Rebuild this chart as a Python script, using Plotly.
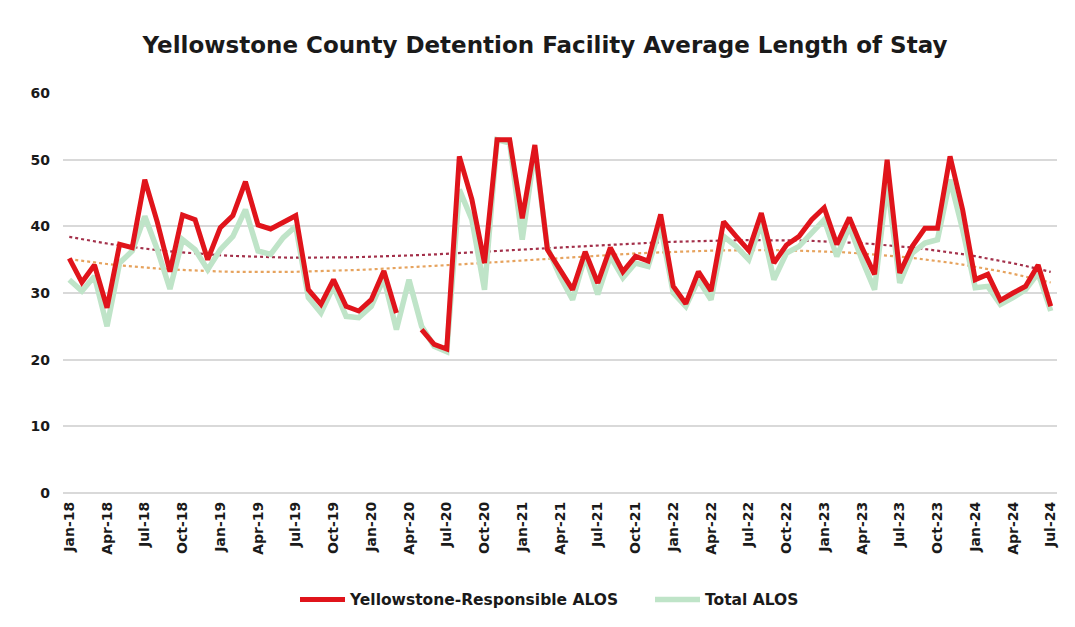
import numpy as np
import plotly.graph_objects as go

# Monthly periods, Jan-18 through Jul-24
months = ["Jan", "Feb", "Mar", "Apr", "May", "Jun", "Jul", "Aug", "Sep", "Oct", "Nov", "Dec"]
periods = [f"{m}-{y:02d}" for y in range(18, 25) for m in months][:79]

# Average length of stay (days) for Yellowstone-responsible inmates
yellowstone_alos = [
    35.2, 31.6, 34.2, 27.8, 37.3, 36.8, 47.0, 40.6, 33.2, 41.7, 41.0, 35.0,
    39.8, 41.6, 46.7, 40.2, 39.6, 40.6, 41.6, 30.5, 28.3, 32.0, 28.0, 27.3,
    29.0, 33.3, 27.0, None, 24.5, 22.3, 21.6, 50.5, 44.0, 34.5, 53.0, 53.0,
    41.2, 52.2, 36.5, 33.5, 30.5, 36.2, 31.5, 36.8, 33.2, 35.5, 34.8, 41.8,
    31.0, 28.4, 33.2, 30.3, 40.7, 38.5, 36.4, 42.0, 34.5, 37.2, 38.5, 41.0,
    42.8, 37.3, 41.3, 36.8, 32.8, 50.0, 33.0, 37.0, 39.7, 39.7, 50.5, 42.5,
    32.0, 32.8, 28.9, 30.0, 31.0, 34.2, 28.0,
]

# Average length of stay (days) for the whole facility
total_alos = [
    32.0, 30.3, 32.5, 25.0, 34.5, 36.3, 41.5, 36.5, 30.6, 38.0, 36.5, 33.5,
    36.5, 38.5, 42.5, 36.3, 35.8, 38.3, 40.0, 29.3, 27.0, 31.0, 26.5, 26.3,
    28.0, 32.2, 24.5, 32.0, 25.0, 22.0, 21.2, 45.5, 41.0, 30.5, 53.0, 52.5,
    38.0, 51.5, 36.8, 32.5, 29.0, 35.5, 29.8, 35.5, 32.3, 34.5, 34.0, 40.0,
    30.0, 28.0, 32.0, 29.0, 38.5, 37.0, 35.0, 40.5, 32.0, 36.0, 37.0, 39.0,
    41.0, 35.5, 40.0, 35.0, 30.5, 46.5, 31.5, 36.0, 37.5, 38.0, 47.0, 39.5,
    30.8, 31.0, 28.3, 29.3, 30.5, 33.0, 27.3,
]

y_ticks = [0, 10, 20, 30, 40, 50, 60]
TREND_ORDER = 3

x = np.arange(len(periods))


def poly_trend(values, order):
    arr = np.array([np.nan if v is None else v for v in values], dtype=float)
    mask = ~np.isnan(arr)
    coef = np.polyfit(x[mask], arr[mask], order)
    return np.polyval(coef, x)


ys_trend = poly_trend(yellowstone_alos, TREND_ORDER)
tot_trend = poly_trend(total_alos, TREND_ORDER)

FONT = "DejaVu Sans, Verdana, sans-serif"

fig = go.Figure()

fig.add_trace(go.Scatter(
    x=x, y=tot_trend, mode="lines", showlegend=False, hoverinfo="skip",
    line=dict(color="#e6a35e", width=2.2, dash="dot"),
))
fig.add_trace(go.Scatter(
    x=x, y=ys_trend, mode="lines", showlegend=False, hoverinfo="skip",
    line=dict(color="#a3304a", width=2.2, dash="dot"),
))
fig.add_trace(go.Scatter(
    x=x, y=total_alos, mode="lines", name="Total ALOS",
    line=dict(color="#bfe4c8", width=5.5),
))
fig.add_trace(go.Scatter(
    x=x, y=yellowstone_alos, mode="lines", name="Yellowstone-Responsible ALOS",
    line=dict(color="#e0141b", width=5), connectgaps=False,
))

tick_idx = list(range(0, len(periods), 3))

fig.update_layout(
    width=1075, height=627,
    paper_bgcolor="white", plot_bgcolor="white",
    margin=dict(l=63, r=18, t=93, b=133),
    font=dict(family=FONT, color="#1a1a1a"),
    title=dict(
        text="Yellowstone County Detention Facility Average Length of Stay",
        x=0.507, xanchor="center", y=0.928, yanchor="middle",
        font=dict(family=FONT, size=23, weight="bold", color="#1a1a1a"),
    ),
    xaxis=dict(
        range=[-0.5, len(periods) - 0.5],
        tickmode="array", tickvals=tick_idx, ticktext=[periods[i] for i in tick_idx],
        tickangle=-90, tickfont=dict(family=FONT, size=14, weight="bold"),
        showgrid=False, zeroline=False, showline=False,
        ticks="", ticklabelstandoff=5,
    ),
    yaxis=dict(
        range=[0, 60], tickvals=y_ticks,
        tickfont=dict(family=FONT, size=14, weight="bold"),
        showgrid=True, gridcolor="#d9d9d9", gridwidth=1.5,
        zeroline=True, zerolinecolor="#d9d9d9", zerolinewidth=1.5,
        showline=False, ticks="", ticklabelstandoff=12,
    ),
    legend=dict(
        orientation="h", x=0.2334, xanchor="left", y=-0.264, yanchor="middle",
        traceorder="reversed",
        font=dict(family=FONT, size=15.5, weight="bold"),
        itemwidth=45, entrywidth=295, entrywidthmode="pixels",
    ),
)

fig.write_html("out.html")
